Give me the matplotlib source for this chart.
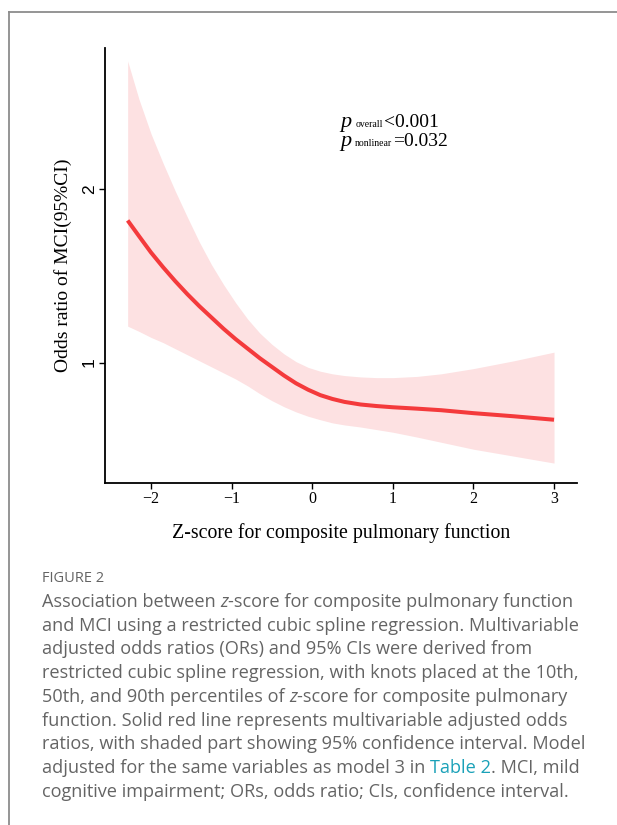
from matplotlib import pyplot as plt
from matplotlib.lines import Line2D

# DATA
z_score = [-2.29, -2.15, -2.0, -1.85, -1.7, -1.55, -1.4, -1.25, -1.1, -0.95,
           -0.8, -0.65, -0.5, -0.35, -0.2, -0.05, 0.1, 0.25, 0.4, 0.6, 0.8,
           1.0, 1.3, 1.6, 2.0, 2.5, 3.0]
odds_ratio = [1.82, 1.73, 1.635, 1.55, 1.47, 1.395, 1.325, 1.26, 1.195, 1.135,
              1.08, 1.025, 0.975, 0.925, 0.88, 0.843, 0.812, 0.79, 0.773,
              0.758, 0.749, 0.742, 0.734, 0.725, 0.708, 0.69, 0.67]
ci_upper = [2.74, 2.52, 2.32, 2.15, 1.99, 1.84, 1.695, 1.565, 1.45, 1.345,
            1.25, 1.17, 1.105, 1.05, 1.005, 0.972, 0.95, 0.935, 0.925, 0.917,
            0.913, 0.913, 0.92, 0.935, 0.965, 1.01, 1.06]
ci_lower = [1.21, 1.18, 1.145, 1.115, 1.08, 1.045, 1.01, 0.975, 0.94, 0.905,
            0.865, 0.82, 0.78, 0.745, 0.715, 0.69, 0.67, 0.652, 0.64, 0.628,
            0.613, 0.598, 0.57, 0.54, 0.50, 0.46, 0.42]
x_ticks = [-2, -1, 0, 1, 2, 3]
x_tick_labels = ['\u22122', '\u22121', '0', '1', '2', '3']
y_ticks = [1, 2]

P_TEXTS = [('overall', '<0.001'), ('nonlinear', '=0.032')]

CAPTION_HEAD = 'FIGURE 2'
CAPTION_LINES = [
    [('Association between ', 'n'), ('z', 'i'),
     ('-score for composite pulmonary function', 'n')],
    [('and MCI using a restricted cubic spline regression. Multivariable', 'n')],
    [('adjusted odds ratios (ORs) and 95% CIs were derived from', 'n')],
    [('restricted cubic spline regression, with knots placed at the 10th,', 'n')],
    [('50th, and 90th percentiles of ', 'n'), ('z', 'i'),
     ('-score for composite pulmonary', 'n')],
    [('function. Solid red line represents multivariable adjusted odds', 'n')],
    [('ratios, with shaded part showing 95% confidence interval. Model', 'n')],
    [('adjusted for the same variables as model 3 in ', 'n'),
     ('Table 2', 'l'), ('. MCI, mild', 'n')],
    [('cognitive impairment; ORs, odds ratio; CIs, confidence interval.', 'n')],
]

W, H = 617, 825
SERIF = 'Liberation Serif'
CAP_FONT = 'Open Sans'
CAP_GRAY = '#646464'

fig = plt.figure(figsize=(W / 100, H / 100), dpi=100)
ax = fig.add_axes([105 / W, 1 - 483 / H, 472 / W, 435 / H])

ax.fill_between(z_score, ci_lower, ci_upper, color='#fde1e2', lw=0)
ax.plot(z_score, odds_ratio, color='#f43a3c', lw=2.9, solid_capstyle='butt',
        solid_joinstyle='round')

ax.set_xlim(-2.571, 3.285)
ax.set_ylim(0.305, 2.815)
ax.set_xticks(x_ticks)
ax.set_yticks(y_ticks)
ax.set_xticklabels(x_tick_labels, family=SERIF, fontsize=11.5)
ax.set_yticklabels([str(v) for v in y_ticks], family='Liberation Sans',
                   fontsize=12.5, rotation=90, va='center')
for s in ['top', 'right']:
    ax.spines[s].set_visible(False)
for s in ['left', 'bottom']:
    ax.spines[s].set_linewidth(1.3)
ax.tick_params(length=4, width=1.0, pad=2)
ax.set_xlabel('Z-score for composite pulmonary function', family=SERIF,
              fontsize=14.3, labelpad=11)
ax.set_ylabel('Odds ratio of MCI(95%CI)', family=SERIF, fontsize=14,
              labelpad=7)

# p-values: big italic p, tiny subscript, value on one baseline
renderer = fig.canvas.get_renderer()
for i, (sub, val) in enumerate(P_TEXTS):
    x_px = 340
    y_px = 127 + i * 19
    for txt, size, style, gap in [('p', 16, 'italic', 4), (sub, 7, 'normal', 1),
                                  (val, 14, 'normal', 0)]:
        t = fig.text(x_px / W, 1 - y_px / H, txt, family=SERIF, fontsize=size,
                     style=style, va='baseline')
        x_px += t.get_window_extent(renderer).width + gap

# frame around the figure panel
fig.add_artist(Line2D([9 / W, 9 / W], [0, 1 - 12 / H], color='#8c8c8c',
                      lw=1.3, transform=fig.transFigure))
fig.add_artist(Line2D([9 / W, 1], [1 - 12 / H, 1 - 12 / H], color='#8c8c8c',
                      lw=1.3, transform=fig.transFigure))

# caption
fig.text(42 / W, 1 - 578 / H, CAPTION_HEAD, family=CAP_FONT, fontsize=10.5,
         color=CAP_GRAY, va='center')
y_px = 602
for parts in CAPTION_LINES:
    x_px = 42
    for txt, kind in parts:
        t = fig.text(x_px / W, 1 - y_px / H, txt, family=CAP_FONT,
                     fontsize=13.1, va='center',
                     style='italic' if kind == 'i' else 'normal',
                     color='#1aa1b8' if kind == 'l' else CAP_GRAY)
        x_px += t.get_window_extent(renderer).width
    y_px += 23.7

fig.savefig('out.png', dpi=100)
